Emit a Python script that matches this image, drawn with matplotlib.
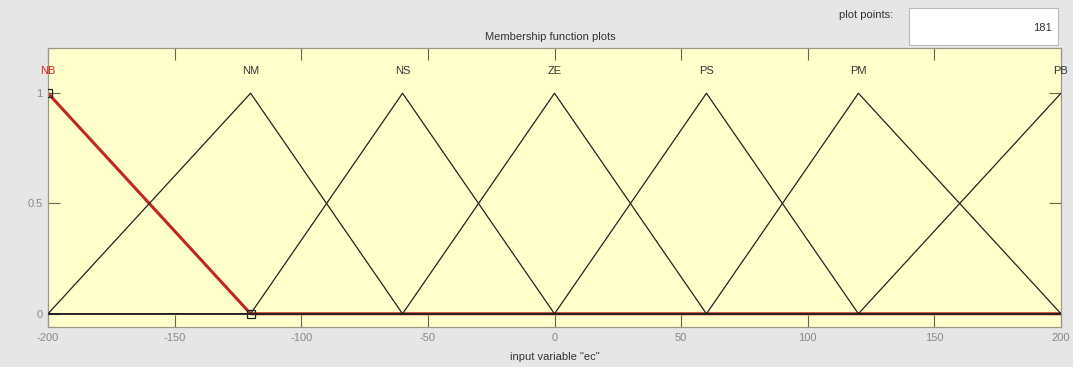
import numpy as np
import matplotlib.pyplot as plt
import matplotlib.patches as patches

# membership function names and triangle parameters (a, b, c)
mf_names = ["NB", "NM", "NS", "ZE", "PS", "PM", "PB"]
mf_a = [-200, -200, -120, -60, 0, 60, 120]
mf_b = [-200, -120, -60, 0, 60, 120, 200]
mf_c = [-120, -60, 0, 60, 120, 200, 200]
selected = "NB"
x_range = [-200, 200]
n_points = 181

plt.rcParams['font.family'] = ['Liberation Sans', 'DejaVu Sans']
plt.rcParams['axes.unicode_minus'] = False

W, H = 1073, 367
fig = plt.figure(figsize=(W / 100, H / 100), dpi=100, facecolor='#e6e6e6')
ax = fig.add_axes([48 / W, 1 - 327 / H, (1061 - 48) / W, (327 - 48) / H])
ax.set_facecolor('#ffffcc')


def trimf(x, a, b, c):
    y = np.zeros_like(x)
    if b > a:
        m = (x >= a) & (x <= b)
        y[m] = (x[m] - a) / (b - a)
    if c > b:
        m = (x >= b) & (x <= c)
        y[m] = (c - x[m]) / (c - b)
    y[x == b] = 1.0
    return y


x = np.linspace(x_range[0], x_range[1], n_points)
for name, a, b, c in zip(mf_names, mf_a, mf_b, mf_c):
    y = trimf(x, a, b, c)
    if name != selected:
        ax.plot(x, y, color='#222222', lw=0.9, zorder=3)
    ax.text(b, 1.1, name, ha='center', va='center', fontsize=8,
            color='#e8141e' if name == selected else '#333333')

# highlighted function
i = mf_names.index(selected)
y = trimf(x, mf_a[i], mf_b[i], mf_c[i])
ax.plot(x, y, color='#c0281e', lw=2.2, zorder=2)
ax.plot([mf_b[i], mf_c[i]], [1, 0], 's', ms=6, mfc='none', mec='#222222',
        mew=0.9, zorder=4)

ax.set_xlim(x_range)
ax.set_ylim(-0.06, 1.205)
ax.set_xticks(np.arange(-200, 201, 50))
ax.set_yticks([0, 0.5, 1])
ax.set_yticklabels(['0', '0.5', '1'])
ax.tick_params(direction='in', top=True, right=True, length=8.5, width=0.8,
               color='#666655', labelcolor='#888888', labelsize=8, pad=4)
for s in ax.spines.values():
    s.set_color('#999988')
    s.set_linewidth(0.9)
ax.set_xlabel('input variable "ec"', fontsize=8, color='#333333', labelpad=7)
fig.text(550 / W, 1 - 37 / H, 'Membership function plots', ha='center',
         va='center', fontsize=8, color='#333333')

# plot points box
fig.text(893 / W, 1 - 15 / H, 'plot points:', ha='right', va='center',
         fontsize=8, color='#333333')
box = patches.Rectangle((909 / W, 1 - 45 / H), (1058 - 909) / W, 37 / H,
                        transform=fig.transFigure, facecolor='white',
                        edgecolor='#bbbbbb', lw=0.8)
fig.patches.append(box)
fig.text(1052 / W, 1 - 28 / H, str(n_points), ha='right', va='center',
         fontsize=8, color='#333333')

fig.savefig('out.png', dpi=100, facecolor=fig.get_facecolor())
